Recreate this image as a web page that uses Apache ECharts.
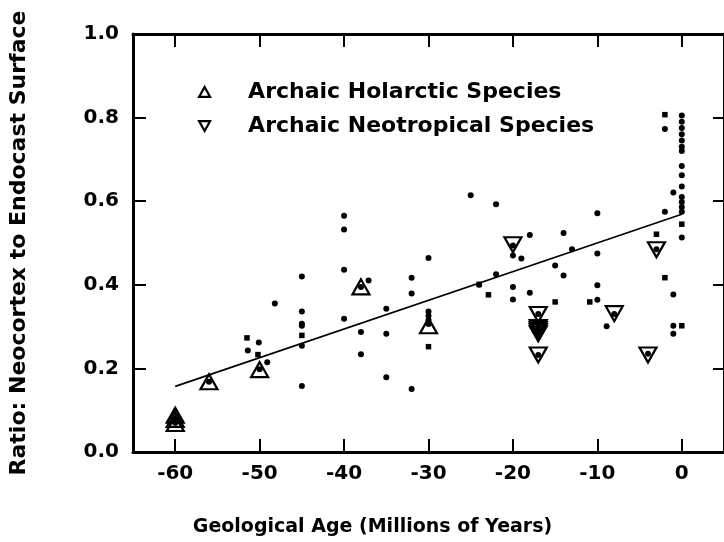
<!DOCTYPE html>
<html>
<head>
<meta charset="utf-8">
<script src="https://cdn.jsdelivr.net/npm/echarts@6/dist/echarts.min.js"></script>
<style>html,body{margin:0;padding:0;background:#fff}#c{width:724px;height:542px}</style>
</head>
<body>
<div id="c"></div>
<script>
// ---- data ----
const xTicks = [-60, -50, -40, -30, -20, -10, 0];
const yTicks = [0, 0.2, 0.4, 0.6, 0.8, 1.0];

const circleAge = [-60,-60,-56,-51.4,-50.1,-50,-49.1,-48.2,-45,-45,-45,-45,-45,-45,-40,-40,-40,-40,-38,-37.1,-38,-38,-35,-35,-35,-32,-32,-32,-30,-30,-30,-30,-30,-25,-22,-22,-24,-20,-20,-19,-20,-20,-18,-18,-17,-17,-17,-17,-17,-15,-14,-14,-13,-10,-10,-10,-10,-8.9,-8,-4,-3,-2,-2,-1,-1,-1,-1,0,0,0,0,0,0,0,0,0,0,0,0,0,0,0];
const circleRatio = [0.078,0.07,0.168,0.243,0.262,0.198,0.215,0.355,0.42,0.336,0.307,0.302,0.254,0.158,0.565,0.532,0.436,0.319,0.395,0.41,0.287,0.234,0.343,0.283,0.179,0.417,0.379,0.151,0.464,0.336,0.326,0.316,0.306,0.614,0.593,0.425,0.4,0.494,0.47,0.463,0.395,0.365,0.519,0.381,0.33,0.298,0.29,0.283,0.232,0.446,0.524,0.422,0.485,0.571,0.475,0.399,0.364,0.301,0.33,0.235,0.485,0.773,0.575,0.621,0.377,0.302,0.283,0.805,0.79,0.775,0.76,0.745,0.73,0.72,0.684,0.662,0.635,0.61,0.598,0.586,0.575,0.513];

const squareAge = [-51.5,-50.2,-45,-30,-24,-22.9,-15,-10.9,-3,-2,-2,0,0];
const squareRatio = [0.273,0.233,0.279,0.252,0.401,0.376,0.359,0.359,0.521,0.807,0.417,0.302,0.545];

const holAge = [-60,-60,-60,-56,-50,-38,-30];
const holRatio = [0.088,0.078,0.068,0.168,0.197,0.395,0.302];

const neoAge = [-20,-17,-17,-17,-17,-17,-17,-8,-4,-3];
const neoRatio = [0.496,0.329,0.298,0.293,0.288,0.283,0.232,0.331,0.232,0.484];

const fitAge = [-60, 0];
const fitRatio = [0.157, 0.569];

const seriesNames = ['Archaic Holarctic Species', 'Archaic Neotropical Species'];
const xTitle = 'Geological Age (Millions of Years)';
const yTitle = 'Ratio: Neocortex to Endocast Surface';

const zip = (a, b) => a.map((v, i) => [v, b[i]]);
const FONT = 'DejaVu Sans';

const chart = echarts.init(document.getElementById('c'), null, {renderer: 'canvas'});
const axisLineStyle = {color: '#000', width: 3};
const tickStyle = {color: '#000', width: 2};
const hollow = {color: 'rgba(255,255,255,0)', borderColor: '#000', borderWidth: 2.2, opacity: 1};

chart.setOption({
  animation: false,
  backgroundColor: '#fff',
  grid: {left: 132, top: 34, width: 595, height: 420, containLabel: false},
  legend: {
    orient: 'vertical', left: 193, top: 75, itemGap: 10,
    itemWidth: 11, itemHeight: 10,
    textStyle: {fontFamily: FONT, fontWeight: 'bold', fontSize: 22, color: '#000', lineHeight: 24, padding: [0, 0, 0, 33]},
    data: [
      {name: seriesNames[0], icon: 'path://M5,0 L10,9 L0,9 Z', itemStyle: hollow},
      {name: seriesNames[1], icon: 'path://M0,0 L10,0 L5,9 Z', itemStyle: hollow}
    ]
  },
  xAxis: [
    {
      type: 'value', position: 'bottom', min: -65, max: 5,
      name: xTitle, nameLocation: 'middle', nameGap: 66,
      nameTextStyle: {fontFamily: FONT, fontWeight: 'bold', fontSize: 19, color: '#000', padding: [0, 112, 0, 0]},
      axisLine: {show: true, onZero: false, lineStyle: axisLineStyle},
      axisTick: {show: true, inside: true, length: 13, lineStyle: tickStyle, customValues: xTicks},
      axisLabel: {show: true, margin: 12, customValues: xTicks, fontFamily: FONT, fontWeight: 'bold', fontSize: 20, color: '#000'},
      splitLine: {show: false}
    },
    {
      type: 'value', position: 'top', min: -65, max: 5,
      axisLine: {show: true, onZero: false, lineStyle: axisLineStyle},
      axisTick: {show: true, inside: true, length: 13, lineStyle: tickStyle, customValues: xTicks},
      axisLabel: {show: false},
      splitLine: {show: false}
    }
  ],
  yAxis: [
    {
      type: 'value', position: 'left', min: 0, max: 1, interval: 0.2,
      name: yTitle, nameLocation: 'middle', nameGap: 103,
      nameTextStyle: {fontFamily: FONT, fontWeight: 'bold', fontSize: 22, color: '#000'},
      axisLine: {show: true, onZero: false, lineStyle: axisLineStyle},
      axisTick: {show: true, inside: true, length: 13, lineStyle: tickStyle},
      axisLabel: {show: true, margin: 14, formatter: v => v.toFixed(1), fontFamily: FONT, fontWeight: 'bold', fontSize: 20, color: '#000'},
      splitLine: {show: false}
    },
    {
      type: 'value', position: 'right', min: 0, max: 1, interval: 0.2,
      axisLine: {show: true, onZero: false, lineStyle: axisLineStyle},
      axisTick: {show: true, inside: true, length: 11, lineStyle: tickStyle},
      axisLabel: {show: false},
      splitLine: {show: false}
    }
  ],
  series: [
    {
      name: 'fit', type: 'line', data: zip(fitAge, fitRatio), symbol: 'none', silent: true,
      lineStyle: {color: '#000', width: 1.6}, z: 2
    },
    {
      name: seriesNames[0], type: 'scatter', data: zip(holAge, holRatio),
      symbol: 'triangle', symbolSize: [17, 15], itemStyle: hollow, z: 3
    },
    {
      name: seriesNames[1], type: 'scatter', data: zip(neoAge, neoRatio),
      symbol: 'triangle', symbolRotate: 180, symbolSize: [17, 15], itemStyle: hollow, z: 3
    },
    {
      name: 'dots', type: 'scatter', data: zip(circleAge, circleRatio),
      symbol: 'circle', symbolSize: 6, itemStyle: {color: '#000', opacity: 1}, z: 4
    },
    {
      name: 'squares', type: 'scatter', data: zip(squareAge, squareRatio),
      symbol: 'rect', symbolSize: 5.5, itemStyle: {color: '#000', opacity: 1}, z: 4
    }
  ]
});
</script>
</body>
</html>
